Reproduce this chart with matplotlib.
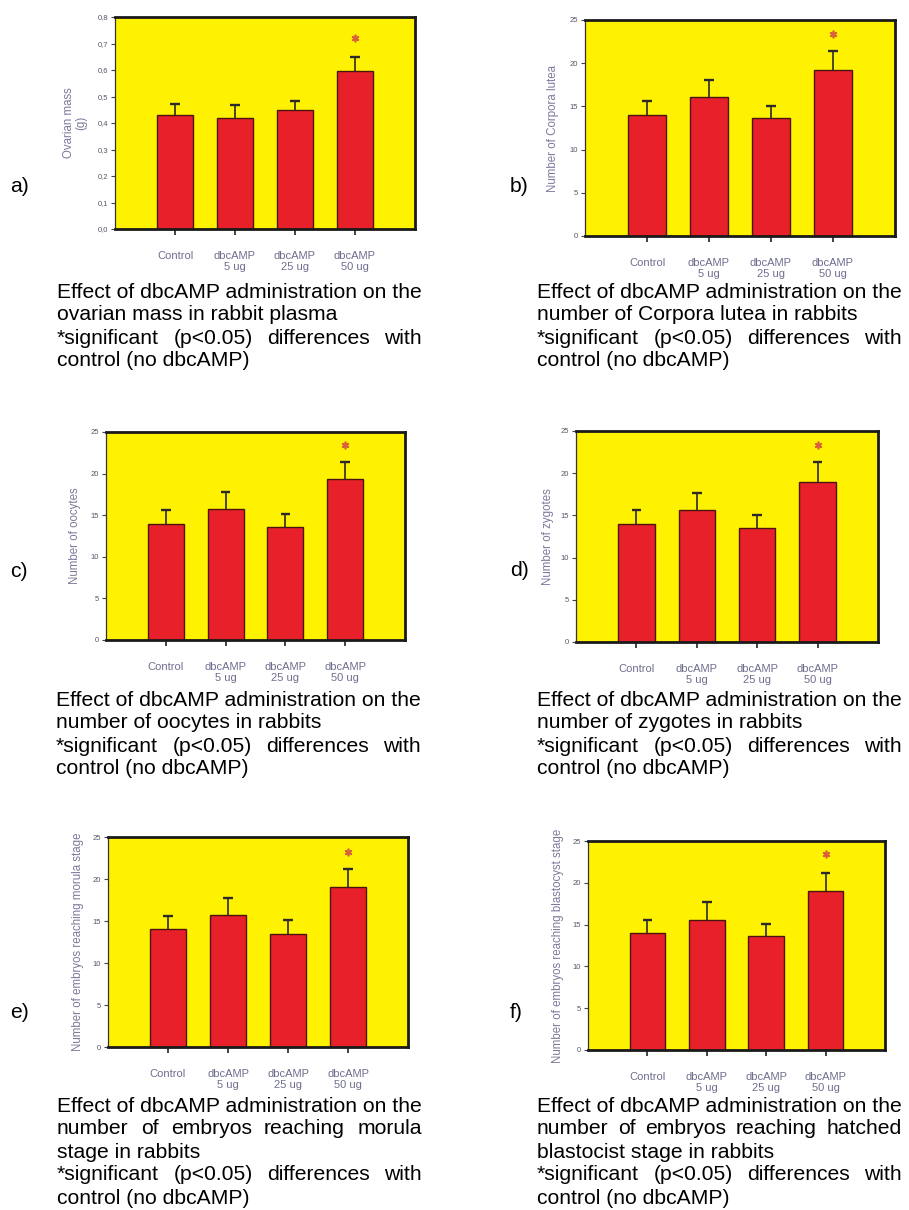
import matplotlib
matplotlib.use('Agg')
import matplotlib.pyplot as plt

plt.rcParams['font.family'] = ['Liberation Sans', 'DejaVu Sans']

# dados (media e erro superior)
groups = ['Control', 'dbcAMP\n5 ug', 'dbcAMP\n25 ug', 'dbcAMP\n50 ug']
x_pos = [1, 2, 3, 4]

ovarian_mass = [0.43, 0.42, 0.45, 0.595]
ovarian_mass_err = [0.04, 0.048, 0.033, 0.055]
corpora_lutea = [14.0, 16.1, 13.6, 19.2]
corpora_lutea_err = [1.6, 2.0, 1.5, 2.2]
oocytes = [14.0, 15.7, 13.6, 19.3]
oocytes_err = [1.6, 2.1, 1.5, 2.1]
zygotes = [14.0, 15.6, 13.5, 19.0]
zygotes_err = [1.6, 2.1, 1.5, 2.3]
morula = [14.0, 15.7, 13.5, 19.0]
morula_err = [1.6, 2.0, 1.6, 2.2]
blastocyst = [14.0, 15.6, 13.6, 19.0]
blastocyst_err = [1.6, 2.1, 1.5, 2.2]

star_y = [0.72, 23.4, 23.4, 23.3, 23.2, 23.5]

ylabels = ['Ovarian mass\n(g)', 'Number of Corpora lutea', 'Number of oocytes',
           'Number of zygotes', 'Number of embryos reaching morula stage',
           'Number of embryos reaching blastocyst stage']
letters = ['a)', 'b)', 'c)', 'd)', 'e)', 'f)']

mass_ticks = [0.0, 0.1, 0.2, 0.3, 0.4, 0.5, 0.6, 0.7, 0.8]
mass_ticklabels = ['0,0', '0,1', '0,2', '0,3', '0,4', '0,5', '0,6', '0,7', '0,8']
count_ticks = [0, 5, 10, 15, 20, 25]

first_line = 'Effect of dbcAMP administration on the'
sig_lines = ['*significant (p<0.05) differences with', 'control (no dbcAMP)']
captions = [
    [first_line, 'ovarian mass in rabbit plasma'],
    [first_line, 'number of Corpora lutea in rabbits'],
    [first_line, 'number of oocytes in rabbits'],
    [first_line, 'number of zygotes in rabbits'],
    [first_line, 'number of embryos reaching morula', 'stage in rabbits'],
    [first_line, 'number of embryos reaching hatched', 'blastocist stage in rabbits'],
]

values = [ovarian_mass, corpora_lutea, oocytes, zygotes, morula, blastocyst]
errors = [ovarian_mass_err, corpora_lutea_err, oocytes_err, zygotes_err, morula_err, blastocyst_err]

# posicao dos eixos em pixels: esquerda, direita, topo, base
boxes = [(115, 415, 17, 229), (585, 895, 20, 236),
         (106, 405, 432, 640), (576, 878, 431, 642),
         (108, 408, 837, 1047), (588, 885, 841, 1050)]
ylabel_x = [75, 553, 75, 548, 78, 558]
letter_pos = [(10, 187), (510, 187), (10, 572), (510, 570), (10, 1012), (510, 1012)]
caption_pos = [(57, 292), (537, 292), (56, 700), (537, 700), (57, 1106), (537, 1106)]

W, H = 909, 1210
fig = plt.figure(figsize=(W / 100, H / 100), dpi=100)
fig.patch.set_facecolor('white')

yellow = '#FFF200'
red = '#E8202A'
grey_text = '#6E6E8E'
cap_size = 15.2
line_h = 23

for i in range(6):
    L, R, T, B = boxes[i]
    ax = fig.add_axes([L / W, 1 - B / H, (R - L) / W, (B - T) / H])
    ax.set_facecolor(yellow)
    ax.bar(x_pos, values[i], width=0.6, color=red, edgecolor='#4A1510', linewidth=1.0, zorder=2)
    tops = [v + e for v, e in zip(values[i], errors[i])]
    # barra de erro so para cima, sem traco na base
    ax.vlines(x_pos, values[i], tops, color='#2A2A2A', linewidth=1.2, zorder=3)
    ax.hlines(tops, [x - 0.08 for x in x_pos], [x + 0.08 for x in x_pos],
              color='#2A2A2A', linewidth=1.7, zorder=3)
    ax.plot([4], [star_y[i]], marker=(6, 2, 0), ms=5.5, mew=1.2, color='#D9603A', zorder=4)
    ax.set_xlim(0, 5)
    if i == 0:
        ax.set_ylim(0, 0.8)
        ax.set_yticks(mass_ticks)
        ax.set_yticklabels(mass_ticklabels)
    else:
        ax.set_ylim(0, 25)
        ax.set_yticks(count_ticks)
    ax.set_xticks(x_pos)
    ax.set_xticklabels(groups, fontsize=8, color=grey_text, linespacing=1.05)
    ax.tick_params(axis='x', length=4, width=1.2, color='#222222', pad=12)
    ax.tick_params(axis='y', length=3, width=0.8, color='#444444', labelsize=5.5,
                   labelcolor='#555566', pad=2)
    for side in ['top', 'right', 'bottom']:
        ax.spines[side].set_linewidth(2.0)
        ax.spines[side].set_color('#1A1A1A')
    ax.spines['left'].set_linewidth(0.9)
    ax.spines['left'].set_color('#333333')

    fig.text(ylabel_x[i] / W, 1 - (T + B) / 2 / H, ylabels[i], rotation=90, ha='center',
             va='center', fontsize=8.3, color='#7A7A9C', linespacing=1.1)
    lx, ly = letter_pos[i]
    fig.text(lx / W, 1 - ly / H, letters[i], fontsize=cap_size, va='center', ha='left')

renderer = fig.canvas.get_renderer()


def text_width(s):
    t = fig.text(0, 0, s, fontsize=cap_size)
    w = t.get_window_extent(renderer).width
    t.remove()
    return w


def draw_line(s, x0, y, width=None):
    if width is None:
        fig.text(x0 / W, 1 - y / H, s, fontsize=cap_size, va='center', ha='left')
        return
    words = s.split()
    widths = [text_width(w) for w in words]
    gap = (width - sum(widths)) / (len(words) - 1)
    x = x0
    for w, wd in zip(words, widths):
        fig.text(x / W, 1 - y / H, w, fontsize=cap_size, va='center', ha='left')
        x += wd + gap


# a primeira linha define a largura do paragrafo justificado
full_w = text_width(first_line)
for i in range(6):
    x0, y0 = caption_pos[i]
    k = 0
    for par in [captions[i], sig_lines]:
        for j, line in enumerate(par):
            natural = j == len(par) - 1 or line == first_line
            draw_line(line, x0, y0 + k * line_h, None if natural else full_w)
            k += 1

fig.savefig('out.png', dpi=100)
